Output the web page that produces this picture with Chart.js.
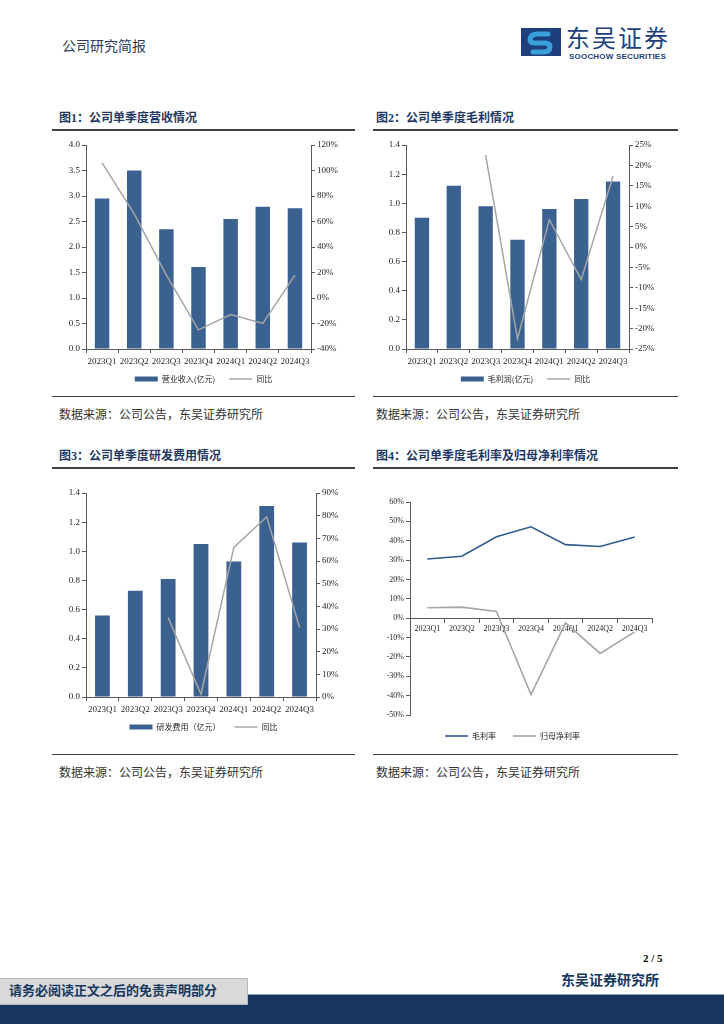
<!DOCTYPE html>
<html>
<head>
<meta charset="utf-8">
<script src="https://cdn.jsdelivr.net/npm/chart.js@4"></script>
<style>
  body { margin: 0; width: 724px; height: 1024px; position: relative; background: #fff; overflow: hidden;
         font-family: 'Liberation Serif', 'Noto Sans CJK SC', serif; }
  .abs { position: absolute; white-space: nowrap; }
  .title { font-size: 12px; line-height: 12px; font-weight: bold; color: #1f3864; }
  .src { font-size: 12px; line-height: 12px; color: #333; }
  .rule { position: absolute; background: #404040; }
  .box { position: absolute; }
</style>
</head>
<body>
<!-- header -->
<div class="abs" style="left:62px;top:40px;font-size:14px;line-height:14px;color:#2f3b57;">公司研究简报</div>
<svg class="abs" style="left:521px;top:28px;" width="40" height="28" viewBox="0 0 40 28">
  <rect x="0" y="0" width="40" height="28" fill="#1d3f7c"/>
  <path d="M27 6 L17 6 Q9 6 9 12 Q9 15 14 15 L24 15 Q29 15 29 19 Q29 24 22 24 L12 24"
        fill="none" stroke="#3aa0dc" stroke-width="5" stroke-linecap="round"/>
</svg>
<div class="abs" style="left:566px;top:25px;font-size:24px;line-height:24px;color:#1d3f7c;letter-spacing:2px;font-family:'Noto Sans CJK SC';">东吴证券</div>
<div class="abs" style="left:569px;top:53px;font-size:8px;line-height:8px;color:#1d3f7c;font-weight:bold;font-family:'Liberation Sans';letter-spacing:0.2px;">SOOCHOW SECURITIES</div>

<!-- row 1 -->
<div class="abs title" style="left:59px;top:112px;">图1：公司单季度营收情况</div>
<div class="abs title" style="left:376px;top:112px;">图2：公司单季度毛利情况</div>
<div class="rule" style="left:52px;top:129px;width:303px;height:2px;"></div>
<div class="rule" style="left:373px;top:129px;width:305px;height:2px;"></div>
<div class="box" style="left:52px;top:133px;width:303px;height:267px;"><canvas id="c1"></canvas></div>
<div class="box" style="left:373px;top:133px;width:305px;height:267px;"><canvas id="c2"></canvas></div>
<div class="rule" style="left:52px;top:396px;width:303px;height:1px;"></div>
<div class="rule" style="left:373px;top:396px;width:305px;height:1px;"></div>
<div class="abs src" style="left:59px;top:409px;">数据来源：公司公告，东吴证券研究所</div>
<div class="abs src" style="left:376px;top:409px;">数据来源：公司公告，东吴证券研究所</div>

<!-- row 2 -->
<div class="abs title" style="left:59px;top:450px;">图3：公司单季度研发费用情况</div>
<div class="abs title" style="left:376px;top:450px;">图4：公司单季度毛利率及归母净利率情况</div>
<div class="rule" style="left:52px;top:467px;width:303px;height:2px;"></div>
<div class="rule" style="left:373px;top:467px;width:305px;height:2px;"></div>
<div class="box" style="left:52px;top:480px;width:303px;height:268px;"><canvas id="c3"></canvas></div>
<div class="box" style="left:373px;top:490px;width:305px;height:260px;"><canvas id="c4"></canvas></div>
<div class="rule" style="left:52px;top:754px;width:303px;height:1px;"></div>
<div class="rule" style="left:373px;top:754px;width:305px;height:1px;"></div>
<div class="abs src" style="left:59px;top:767px;">数据来源：公司公告，东吴证券研究所</div>
<div class="abs src" style="left:376px;top:767px;">数据来源：公司公告，东吴证券研究所</div>

<!-- footer -->
<div class="abs" style="left:643px;top:953px;font-size:11px;line-height:11px;font-weight:bold;color:#000;">2 / 5</div>
<div class="abs" style="left:561px;top:974px;font-size:14px;line-height:14px;font-weight:bold;color:#17365d;">东吴证券研究所</div>
<div class="abs" style="left:0;top:994px;width:724px;height:29px;background:#17365d;border-top:1px solid #8fa6c4;"></div>
<div class="abs" style="left:0;top:978px;width:247px;height:25px;background:#d9d9d9;border:1px solid #b8b8b8;border-left:none;"></div>
<div class="abs" style="left:9px;top:984px;font-size:13px;line-height:13px;font-weight:bold;color:#17365d;">请务必阅读正文之后的免责声明部分</div>

<script>
// data
const quarters = ['2023Q1', '2023Q2', '2023Q3', '2023Q4', '2024Q1', '2024Q2', '2024Q3'];

const revenue = [2.95, 3.50, 2.35, 1.61, 2.55, 2.79, 2.76];        // 营业收入(亿元)
const revenueYoY = [106, 66, 18, -25, -13, -20, 18];               // 同比 %

const grossProfit = [0.90, 1.12, 0.98, 0.75, 0.96, 1.03, 1.15];    // 毛利润(亿元)
const grossProfitYoY = [null, null, 22.5, -22.5, 6.7, -8, 17.4];   // 同比 %

const rdExpense = [0.56, 0.73, 0.81, 1.05, 0.93, 1.31, 1.06];      // 研发费用(亿元)
const rdExpenseYoY = [null, null, 35, 1.2, 66, 79.5, 30.7];        // 同比 %

const grossMargin = [30.6, 32.0, 42.0, 47.2, 38.0, 37.0, 41.9];    // 毛利率 %
const netMargin = [5.4, 5.7, 3.5, -39.4, -2.4, -18.2, -7.1];       // 归母净利率 %

const BAR = '#3a6190';
const GRAY = '#a6a6a6';
const BLUE_LINE = '#2f5b8f';
const AXIS = '#595959';
const TXT = '#262626';

Chart.defaults.font.family = "'Liberation Serif', 'Noto Sans CJK SC', serif";
Chart.defaults.font.size = 9;
Chart.defaults.color = TXT;
Chart.defaults.animation = false;

// pulls the legend a few px up, closer to the axis labels
const legendNudge = {
  id: 'legendNudge',
  afterLayout(chart, args, opts) {
    if (chart.legend && opts.dy) {
      chart.legend.top -= opts.dy;
      chart.legend.bottom -= opts.dy;
    }
  }
};

function axis(opts) {
  // axis line + outside tick marks only, no grid
  return Object.assign({
    border: { color: AXIS, width: 1 },
    grid: { display: true, drawOnChartArea: false, drawTicks: true, tickLength: 4, color: AXIS },
    ticks: { color: TXT, padding: 2 }
  }, opts);
}

function legendOpts(gap) {
  return {
    position: 'bottom',
    labels: {
      usePointStyle: true,
      pointStyleWidth: 23,
      boxHeight: 5,
      padding: gap,
      color: TXT,
      font: { size: 8, family: "'Noto Sans CJK SC'" },
      sort: (a, b) => a.datasetIndex - b.datasetIndex
    }
  };
}

function comboChart(id, barLabel, bars, lineVals, left, right, widths) {
  new Chart(document.getElementById(id), {
    data: {
      labels: quarters,
      datasets: [
        { type: 'bar', label: barLabel, data: bars, backgroundColor: BAR, borderWidth: 0,
          barPercentage: 0.45, categoryPercentage: 1, pointStyle: 'rect', yAxisID: 'y', order: 1 },
        { type: 'line', label: '同比', data: lineVals, borderColor: GRAY, backgroundColor: GRAY,
          borderWidth: 1.5, pointRadius: 0, pointStyle: 'line', tension: 0, yAxisID: 'y1', order: 0 }
      ]
    },
    plugins: [legendNudge],
    options: {
      responsive: true,
      maintainAspectRatio: false,
      layout: { padding: { top: widths.top, left: 0, right: 0, bottom: 0 } },
      plugins: { legend: legendOpts(14), legendNudge: { dy: 7 }, tooltip: { enabled: false } },
      scales: {
        x: axis({
          offset: true,
          grid: { display: true, drawOnChartArea: false, offset: true, tickLength: 4, color: AXIS },
          ticks: { color: TXT, padding: 3, maxRotation: 0, autoSkip: false },
          afterFit: (s) => { s.height = 19; }
        }),
        y: axis({
          position: 'left', min: left.min, max: left.max,
          ticks: { color: TXT, padding: 2, stepSize: left.step, callback: (v) => v.toFixed(1) },
          afterFit: (s) => { s.width = widths.left; }
        }),
        y1: axis({
          position: 'right', min: right.min, max: right.max,
          ticks: { color: TXT, padding: 2, stepSize: right.step, callback: (v) => v + '%' },
          afterFit: (s) => { s.width = widths.right; }
        })
      }
    }
  });
}

comboChart('c1', '营业收入(亿元)', revenue, revenueYoY,
  { min: 0, max: 4, step: 0.5 }, { min: -40, max: 120, step: 20 }, { left: 34, right: 44, top: 12 });
comboChart('c2', '毛利润(亿元)', grossProfit, grossProfitYoY,
  { min: 0, max: 1.4, step: 0.2 }, { min: -25, max: 25, step: 5 }, { left: 33, right: 49, top: 12 });
comboChart('c3', '研发费用（亿元）', rdExpense, rdExpenseYoY,
  { min: 0, max: 1.4, step: 0.2 }, { min: 0, max: 90, step: 10 }, { left: 34, right: 39, top: 13 });

new Chart(document.getElementById('c4'), {
  type: 'line',
  data: {
    labels: quarters,
    datasets: [
      { label: '毛利率', data: grossMargin, borderColor: BLUE_LINE, backgroundColor: BLUE_LINE,
        borderWidth: 1.6, pointRadius: 0, pointStyle: 'line', tension: 0 },
      { label: '归母净利率', data: netMargin, borderColor: GRAY, backgroundColor: GRAY,
        borderWidth: 1.6, pointRadius: 0, pointStyle: 'line', tension: 0 }
    ]
  },
  options: {
    responsive: true,
    maintainAspectRatio: false,
    layout: { padding: { top: 12, left: 0, right: 26, bottom: 0 } },
    plugins: { legend: legendOpts(17), tooltip: { enabled: false } },
    scales: {
      x: axis({
        position: { y: 0 },
        offset: true,
        grid: { display: true, drawOnChartArea: false, offset: true, tickLength: 4, color: AXIS },
        ticks: { color: TXT, padding: 2, maxRotation: 0, autoSkip: false, font: { size: 8 } }
      }),
      y: axis({
        min: -50, max: 60,
        ticks: { color: TXT, padding: 2, stepSize: 10, font: { size: 8 }, callback: (v) => v + '%' },
        afterFit: (s) => { s.width = 37; }
      })
    }
  }
});
</script>
</body>
</html>
